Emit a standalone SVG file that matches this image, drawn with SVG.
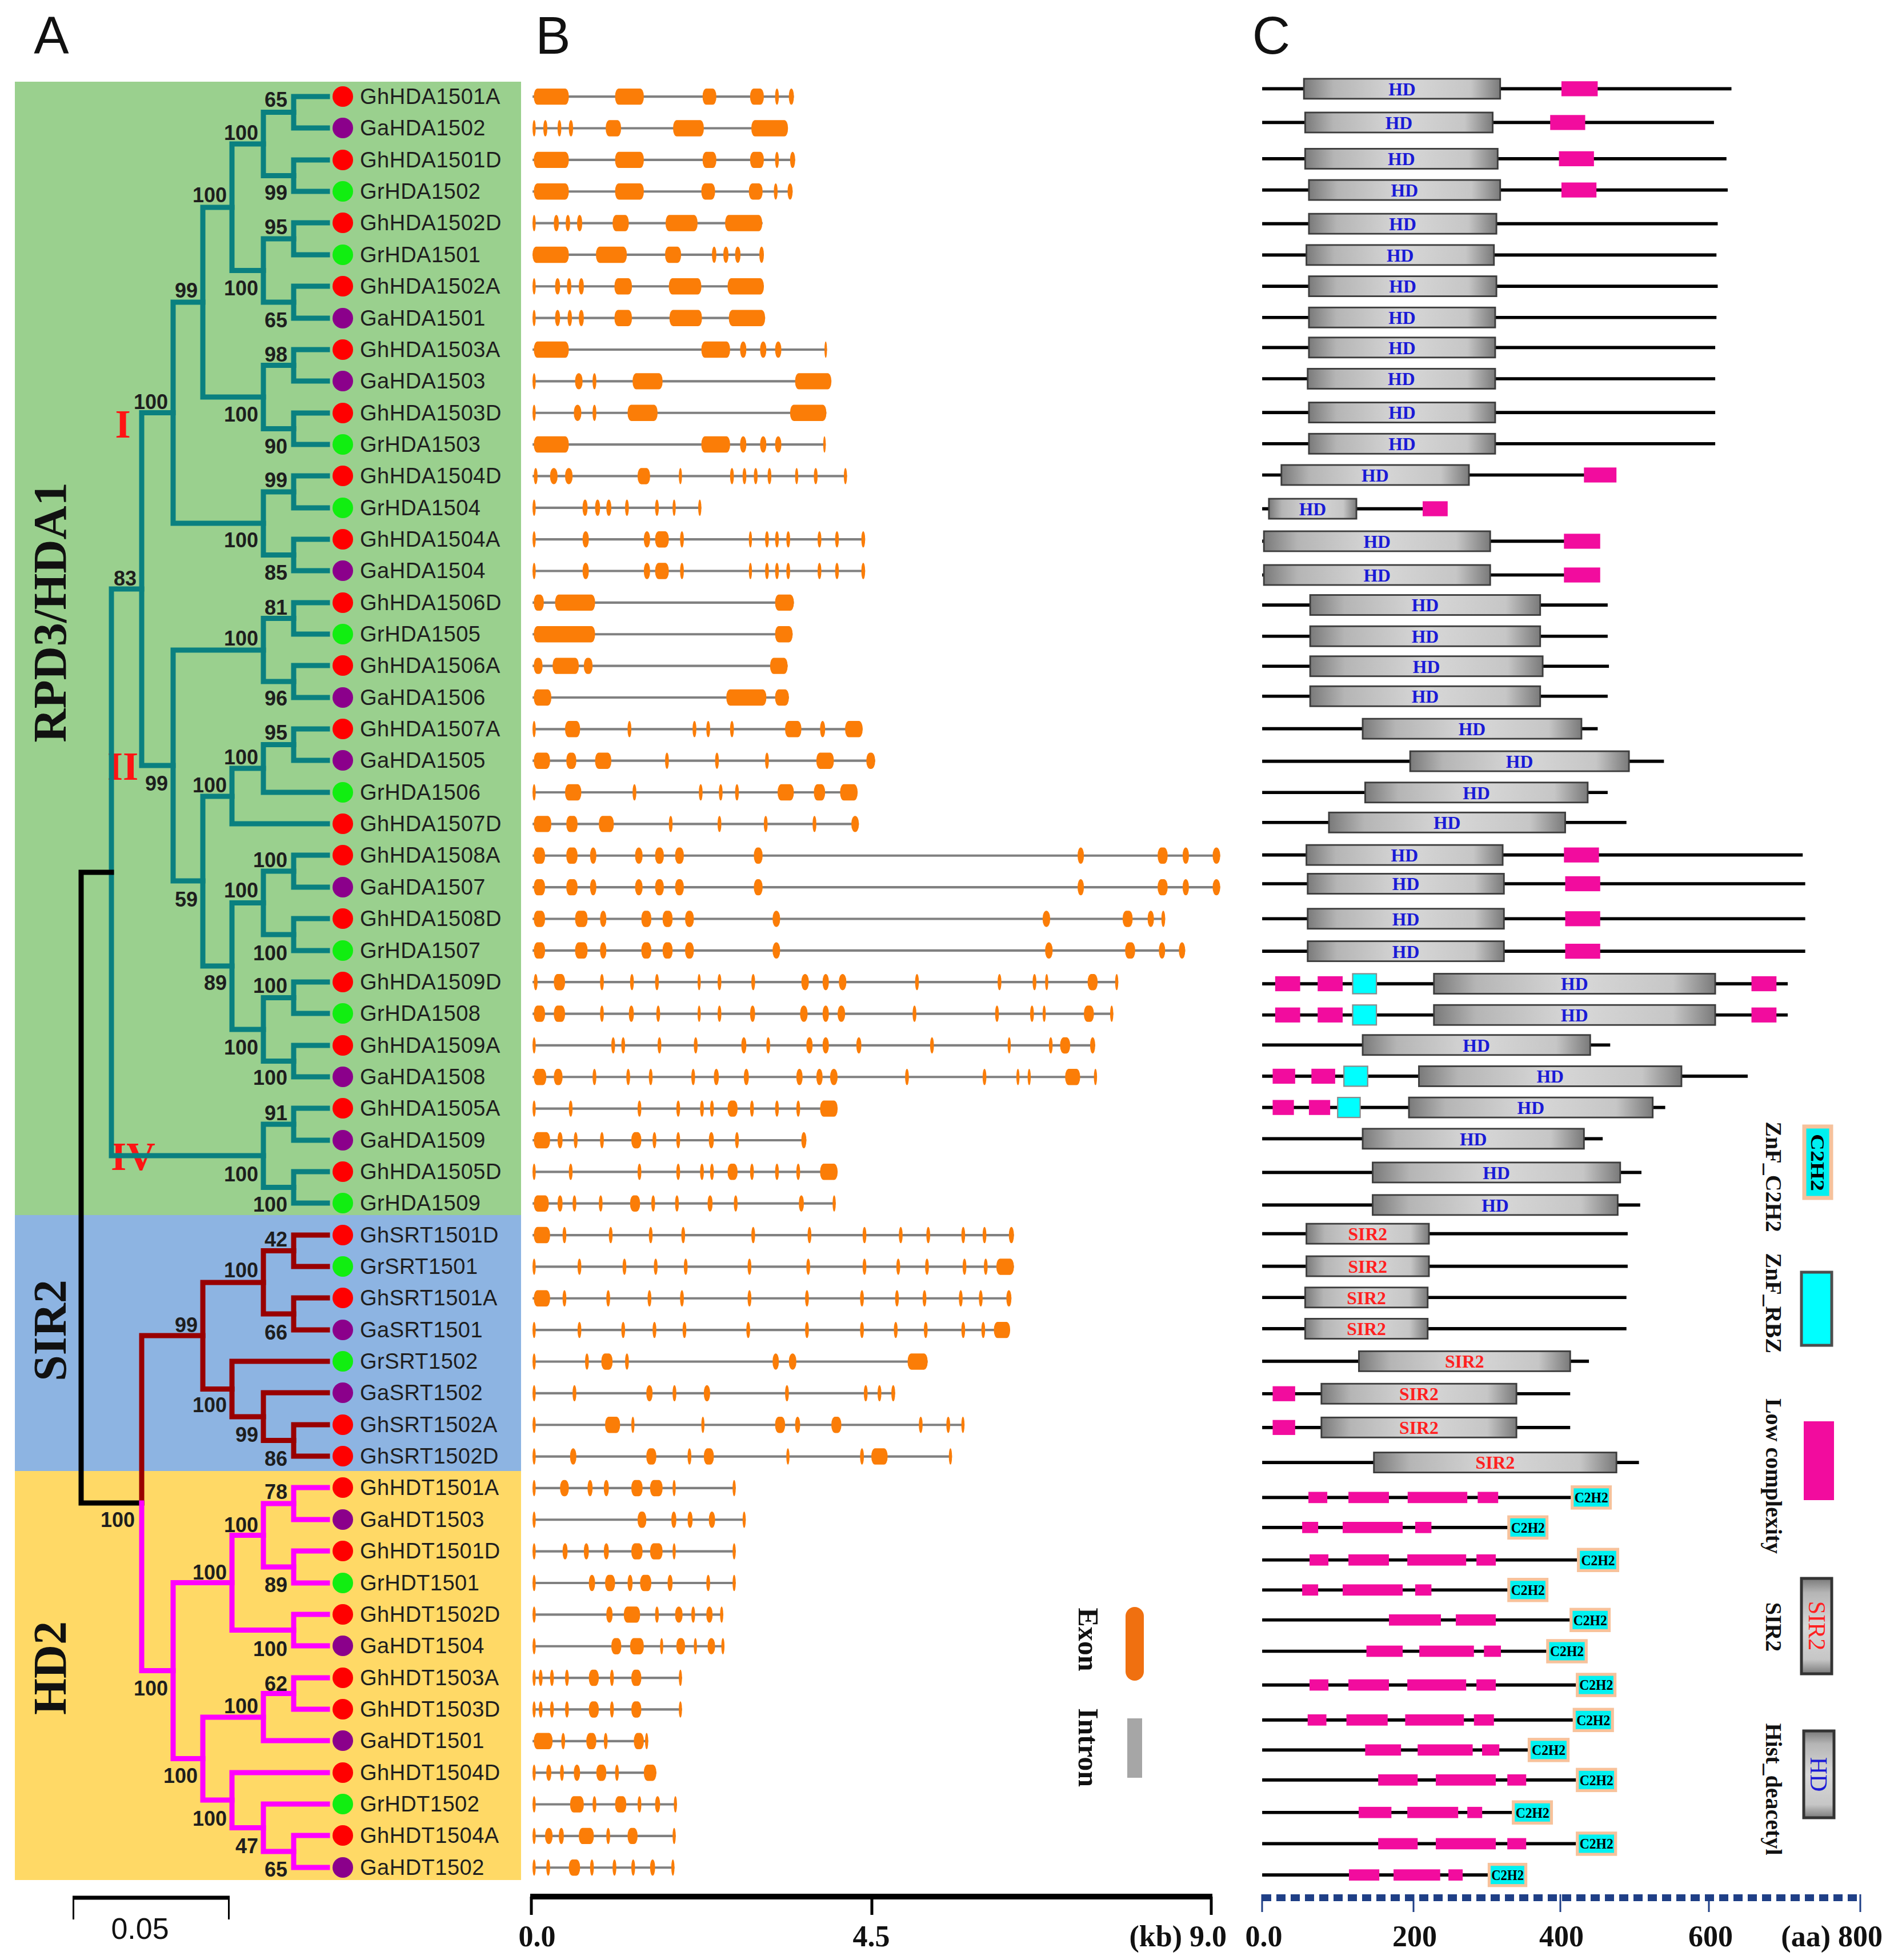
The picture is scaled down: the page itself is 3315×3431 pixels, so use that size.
<svg xmlns="http://www.w3.org/2000/svg" width="3315" height="3431" viewBox="0 0 3315 3431">
<defs>
<linearGradient id="gH" x1="0" y1="0" x2="1" y2="0">
<stop offset="0" stop-color="#7a7a7a"/><stop offset="0.15" stop-color="#b5b5b5"/><stop offset="0.5" stop-color="#d8d8d8"/><stop offset="0.85" stop-color="#c6c6c6"/><stop offset="1" stop-color="#7a7a7a"/>
</linearGradient>
<linearGradient id="gV" x1="0" y1="0" x2="0" y2="1">
<stop offset="0" stop-color="#7a7a7a"/><stop offset="0.15" stop-color="#b5b5b5"/><stop offset="0.5" stop-color="#d8d8d8"/><stop offset="0.85" stop-color="#c6c6c6"/><stop offset="1" stop-color="#7a7a7a"/>
</linearGradient>
</defs>
<style>
.pl{font-family:"Liberation Sans",Arial,sans-serif;font-size:92px;fill:#111;text-anchor:middle}
.lf{font-family:"Liberation Sans",Arial,sans-serif;font-size:38px;fill:#1e1e1e;letter-spacing:0.5px}
.bs{font-family:"Liberation Sans",Arial,sans-serif;font-size:36px;font-weight:bold;fill:#1e1e1e;text-anchor:end}
.cl{font-family:"Liberation Serif","Times New Roman",serif;font-weight:bold;font-size:82px;fill:#111;text-anchor:middle}
.rn{font-family:"Liberation Serif","Times New Roman",serif;font-weight:bold;font-size:70px;fill:#ff1414;text-anchor:middle}
.t{fill:none;stroke-width:9;stroke-linecap:square;stroke-linejoin:miter}
.tl{stroke:#0a8080}.dr{stroke:#990000}.mg{stroke:#ff00ff}.bk{stroke:#000}
.r{fill:#ff0000}.p{fill:#8b008b}.g{fill:#11ee11}
#B path{fill:none;stroke:#808080;stroke-width:1.9}
#B rect{fill:#fb7d07;y:-6.5px;height:13px;rx:3px;ry:6px}
#C .bb{fill:none;stroke:#000;stroke-width:2.6}
#C .hd{fill:url(#gH);stroke:#3c3c3c;stroke-width:1.3;y:-8px;height:16px}
#C .lc{fill:#f20c9e;y:-6px;height:12px}
#C .lc2{fill:#f20c9e;y:-4.5px;height:9px}
#C .rz{fill:#00ffff;stroke:#8a8a8a;stroke-width:1;y:-8px;height:16px}
#C .c2{fill:#00f2f2;stroke:#f7c29b;stroke-width:2.4;y:-8.5px;height:17px}
.ht{font-family:"Liberation Serif","Times New Roman",serif;font-weight:bold;font-size:14.5px;fill:#1a1ad6;text-anchor:middle}
.st{font-family:"Liberation Serif","Times New Roman",serif;font-weight:bold;font-size:14.5px;fill:#ff2020;text-anchor:middle}
.ct{font-family:"Liberation Serif","Times New Roman",serif;font-weight:bold;font-size:11.5px;fill:#000;text-anchor:middle}
.lg{font-family:"Liberation Serif","Times New Roman",serif;font-weight:bold;font-size:40px;fill:#111;text-anchor:middle}
.el{font-family:"Liberation Serif","Times New Roman",serif;font-weight:bold;font-size:50px;fill:#111;text-anchor:middle}
.ax{font-family:"Liberation Serif","Times New Roman",serif;font-weight:bold;font-size:52px;fill:#111;text-anchor:middle}
</style>
<rect width="3315" height="3431" fill="#fff"/>

<g id="panel-letters">
<text class="pl" x="90" y="94">A</text>
<text class="pl" x="968" y="94">B</text>
<text class="pl" x="2225" y="94">C</text>
</g>

<g id="clade-backgrounds">
<rect x="26" y="143" width="886" height="1984" fill="#9ad08e"/>
<rect x="26" y="2127" width="886" height="448" fill="#8db4e2"/>
<rect x="26" y="2575" width="886" height="716" fill="#ffd966"/>
</g>

<g id="clade-labels">
<text class="cl" transform="translate(115,1072) rotate(-90)">RPD3/HDA1</text>
<text class="cl" transform="translate(115,2329) rotate(-90)">SIR2</text>
<text class="cl" transform="translate(115,2920) rotate(-90)">HD2</text>
<text class="rn" x="215" y="766">I</text>
<text class="rn" x="215" y="1365">II</text>
<text class="rn" x="233" y="2048">IV</text>
</g>

<g id="connectors">
<g class="t tl">
<path d="M573,169H514V224H573"/>
<path d="M573,280H514V335H573"/>
<path d="M514,196.5H461V307.5H514"/>
<path d="M573,390H514V446H573"/>
<path d="M573,501H514V557H573"/>
<path d="M514,418H461V529H514"/>
<path d="M461,252H406V473.5H461"/>
<path d="M573,612H514V667H573"/>
<path d="M573,723H514V778H573"/>
<path d="M514,639.5H461V750.5H514"/>
<path d="M406,363H355V695H461"/>
<path d="M573,833H514V889H573"/>
<path d="M573,944H514V999H573"/>
<path d="M514,861H461V971.5H514"/>
<path d="M355,529H303V916H461"/>
<path d="M573,1055H514V1110H573"/>
<path d="M573,1165H514V1221H573"/>
<path d="M514,1082.5H461V1193H514"/>
<path d="M573,1276H514V1331H573"/>
<path d="M514,1303.5H461V1387H573"/>
<path d="M461,1345H406V1442H573"/>
<path d="M573,1497H514V1553H573"/>
<path d="M573,1608H514V1664H573"/>
<path d="M514,1525H461V1636H514"/>
<path d="M573,1719H514V1774H573"/>
<path d="M573,1830H514V1885H573"/>
<path d="M514,1746.5H461V1857.5H514"/>
<path d="M461,1580.5H406V1802H461"/>
<path d="M406,1394H355V1691H406"/>
<path d="M461,1138H303V1542H355"/>
<path d="M303,722.5H248V1340H303"/>
<path d="M573,1940H514V1996H573"/>
<path d="M573,2051H514V2106H573"/>
<path d="M514,1968H461V2078.5H514"/>
<path d="M248,1031H195V2023H461"/>
</g>
<path class="t bk" d="M195,1527H142V2631H248"/>
<g class="t dr">
<path d="M573,2162H514V2217H573"/>
<path d="M573,2272H514V2328H573"/>
<path d="M514,2189.5H461V2300H514"/>
<path d="M573,2494H514V2549H573"/>
<path d="M573,2438H461V2521.5H514"/>
<path d="M573,2383H406V2480H461"/>
<path d="M461,2245H355V2431.5H406"/>
<path d="M355,2338H248V2631"/>
</g>
<g class="t mg">
<path d="M573,2604H514V2660H573"/>
<path d="M573,2715H514V2771H573"/>
<path d="M514,2632H461V2743H514"/>
<path d="M573,2826H514V2881H573"/>
<path d="M461,2687.5H406V2853.5H514"/>
<path d="M573,2937H514V2992H573"/>
<path d="M514,2964.5H461V3047H573"/>
<path d="M573,3213H514V3269H573"/>
<path d="M573,3158H461V3241H514"/>
<path d="M573,3103H406V3199.5H461"/>
<path d="M461,3006H355V3151H406"/>
<path d="M406,2770.5H303V3078.5H355"/>
<path d="M248,2631V2924.5H303"/>
</g>
</g>

<g id="bootstrap">
<text class="bs" x="503" y="187">65</text>
<text class="bs" x="452" y="245">100</text>
<text class="bs" x="503" y="350">99</text>
<text class="bs" x="397" y="354">100</text>
<text class="bs" x="503" y="410">95</text>
<text class="bs" x="452" y="517">100</text>
<text class="bs" x="346" y="521">99</text>
<text class="bs" x="503" y="573">65</text>
<text class="bs" x="503" y="633">98</text>
<text class="bs" x="294" y="716">100</text>
<text class="bs" x="452" y="738">100</text>
<text class="bs" x="503" y="794">90</text>
<text class="bs" x="503" y="853">99</text>
<text class="bs" x="452" y="958">100</text>
<text class="bs" x="503" y="1015">85</text>
<text class="bs" x="239" y="1025">83</text>
<text class="bs" x="503" y="1076">81</text>
<text class="bs" x="452" y="1130">100</text>
<text class="bs" x="503" y="1235">96</text>
<text class="bs" x="503" y="1295">95</text>
<text class="bs" x="452" y="1338">100</text>
<text class="bs" x="294" y="1384">99</text>
<text class="bs" x="397" y="1387">100</text>
<text class="bs" x="503" y="1518">100</text>
<text class="bs" x="452" y="1571">100</text>
<text class="bs" x="346" y="1587">59</text>
<text class="bs" x="503" y="1681">100</text>
<text class="bs" x="397" y="1733">89</text>
<text class="bs" x="503" y="1738">100</text>
<text class="bs" x="452" y="1846">100</text>
<text class="bs" x="503" y="1899">100</text>
<text class="bs" x="503" y="1961">91</text>
<text class="bs" x="452" y="2068">100</text>
<text class="bs" x="503" y="2121">100</text>
<text class="bs" x="503" y="2182">42</text>
<text class="bs" x="452" y="2236">100</text>
<text class="bs" x="346" y="2332">99</text>
<text class="bs" x="503" y="2345">66</text>
<text class="bs" x="397" y="2472">100</text>
<text class="bs" x="452" y="2524">99</text>
<text class="bs" x="503" y="2566">86</text>
<text class="bs" x="236" y="2673">100</text>
<text class="bs" x="503" y="2624">78</text>
<text class="bs" x="452" y="2682">100</text>
<text class="bs" x="397" y="2765">100</text>
<text class="bs" x="503" y="2787">89</text>
<text class="bs" x="503" y="2899">100</text>
<text class="bs" x="503" y="2960">62</text>
<text class="bs" x="294" y="2968">100</text>
<text class="bs" x="452" y="2999">100</text>
<text class="bs" x="346" y="3121">100</text>
<text class="bs" x="397" y="3196">100</text>
<text class="bs" x="452" y="3244">47</text>
<text class="bs" x="503" y="3285">65</text>
</g>

<g id="leaves">
<g id="n-GhHDA1501A"><circle class="r" cx="600" cy="169" r="18"/><text class="lf" x="630" y="182">GhHDA1501A</text></g>
<g id="n-GaHDA1502"><circle class="p" cx="600" cy="224" r="18"/><text class="lf" x="630" y="237">GaHDA1502</text></g>
<g id="n-GhHDA1501D"><circle class="r" cx="600" cy="280" r="18"/><text class="lf" x="630" y="293">GhHDA1501D</text></g>
<g id="n-GrHDA1502"><circle class="g" cx="600" cy="335" r="18"/><text class="lf" x="630" y="348">GrHDA1502</text></g>
<g id="n-GhHDA1502D"><circle class="r" cx="600" cy="390" r="18"/><text class="lf" x="630" y="403">GhHDA1502D</text></g>
<g id="n-GrHDA1501"><circle class="g" cx="600" cy="446" r="18"/><text class="lf" x="630" y="459">GrHDA1501</text></g>
<g id="n-GhHDA1502A"><circle class="r" cx="600" cy="501" r="18"/><text class="lf" x="630" y="514">GhHDA1502A</text></g>
<g id="n-GaHDA1501"><circle class="p" cx="600" cy="557" r="18"/><text class="lf" x="630" y="570">GaHDA1501</text></g>
<g id="n-GhHDA1503A"><circle class="r" cx="600" cy="612" r="18"/><text class="lf" x="630" y="625">GhHDA1503A</text></g>
<g id="n-GaHDA1503"><circle class="p" cx="600" cy="667" r="18"/><text class="lf" x="630" y="680">GaHDA1503</text></g>
<g id="n-GhHDA1503D"><circle class="r" cx="600" cy="723" r="18"/><text class="lf" x="630" y="736">GhHDA1503D</text></g>
<g id="n-GrHDA1503"><circle class="g" cx="600" cy="778" r="18"/><text class="lf" x="630" y="791">GrHDA1503</text></g>
<g id="n-GhHDA1504D"><circle class="r" cx="600" cy="833" r="18"/><text class="lf" x="630" y="846">GhHDA1504D</text></g>
<g id="n-GrHDA1504"><circle class="g" cx="600" cy="889" r="18"/><text class="lf" x="630" y="902">GrHDA1504</text></g>
<g id="n-GhHDA1504A"><circle class="r" cx="600" cy="944" r="18"/><text class="lf" x="630" y="957">GhHDA1504A</text></g>
<g id="n-GaHDA1504"><circle class="p" cx="600" cy="999" r="18"/><text class="lf" x="630" y="1012">GaHDA1504</text></g>
<g id="n-GhHDA1506D"><circle class="r" cx="600" cy="1055" r="18"/><text class="lf" x="630" y="1068">GhHDA1506D</text></g>
<g id="n-GrHDA1505"><circle class="g" cx="600" cy="1110" r="18"/><text class="lf" x="630" y="1123">GrHDA1505</text></g>
<g id="n-GhHDA1506A"><circle class="r" cx="600" cy="1165" r="18"/><text class="lf" x="630" y="1178">GhHDA1506A</text></g>
<g id="n-GaHDA1506"><circle class="p" cx="600" cy="1221" r="18"/><text class="lf" x="630" y="1234">GaHDA1506</text></g>
<g id="n-GhHDA1507A"><circle class="r" cx="600" cy="1276" r="18"/><text class="lf" x="630" y="1289">GhHDA1507A</text></g>
<g id="n-GaHDA1505"><circle class="p" cx="600" cy="1331" r="18"/><text class="lf" x="630" y="1344">GaHDA1505</text></g>
<g id="n-GrHDA1506"><circle class="g" cx="600" cy="1387" r="18"/><text class="lf" x="630" y="1400">GrHDA1506</text></g>
<g id="n-GhHDA1507D"><circle class="r" cx="600" cy="1442" r="18"/><text class="lf" x="630" y="1455">GhHDA1507D</text></g>
<g id="n-GhHDA1508A"><circle class="r" cx="600" cy="1497" r="18"/><text class="lf" x="630" y="1510">GhHDA1508A</text></g>
<g id="n-GaHDA1507"><circle class="p" cx="600" cy="1553" r="18"/><text class="lf" x="630" y="1566">GaHDA1507</text></g>
<g id="n-GhHDA1508D"><circle class="r" cx="600" cy="1608" r="18"/><text class="lf" x="630" y="1621">GhHDA1508D</text></g>
<g id="n-GrHDA1507"><circle class="g" cx="600" cy="1664" r="18"/><text class="lf" x="630" y="1677">GrHDA1507</text></g>
<g id="n-GhHDA1509D"><circle class="r" cx="600" cy="1719" r="18"/><text class="lf" x="630" y="1732">GhHDA1509D</text></g>
<g id="n-GrHDA1508"><circle class="g" cx="600" cy="1774" r="18"/><text class="lf" x="630" y="1787">GrHDA1508</text></g>
<g id="n-GhHDA1509A"><circle class="r" cx="600" cy="1830" r="18"/><text class="lf" x="630" y="1843">GhHDA1509A</text></g>
<g id="n-GaHDA1508"><circle class="p" cx="600" cy="1885" r="18"/><text class="lf" x="630" y="1898">GaHDA1508</text></g>
<g id="n-GhHDA1505A"><circle class="r" cx="600" cy="1940" r="18"/><text class="lf" x="630" y="1953">GhHDA1505A</text></g>
<g id="n-GaHDA1509"><circle class="p" cx="600" cy="1996" r="18"/><text class="lf" x="630" y="2009">GaHDA1509</text></g>
<g id="n-GhHDA1505D"><circle class="r" cx="600" cy="2051" r="18"/><text class="lf" x="630" y="2064">GhHDA1505D</text></g>
<g id="n-GrHDA1509"><circle class="g" cx="600" cy="2106" r="18"/><text class="lf" x="630" y="2119">GrHDA1509</text></g>
<g id="n-GhSRT1501D"><circle class="r" cx="600" cy="2162" r="18"/><text class="lf" x="630" y="2175">GhSRT1501D</text></g>
<g id="n-GrSRT1501"><circle class="g" cx="600" cy="2217" r="18"/><text class="lf" x="630" y="2230">GrSRT1501</text></g>
<g id="n-GhSRT1501A"><circle class="r" cx="600" cy="2272" r="18"/><text class="lf" x="630" y="2285">GhSRT1501A</text></g>
<g id="n-GaSRT1501"><circle class="p" cx="600" cy="2328" r="18"/><text class="lf" x="630" y="2341">GaSRT1501</text></g>
<g id="n-GrSRT1502"><circle class="g" cx="600" cy="2383" r="18"/><text class="lf" x="630" y="2396">GrSRT1502</text></g>
<g id="n-GaSRT1502"><circle class="p" cx="600" cy="2438" r="18"/><text class="lf" x="630" y="2451">GaSRT1502</text></g>
<g id="n-GhSRT1502A"><circle class="r" cx="600" cy="2494" r="18"/><text class="lf" x="630" y="2507">GhSRT1502A</text></g>
<g id="n-GhSRT1502D"><circle class="r" cx="600" cy="2549" r="18"/><text class="lf" x="630" y="2562">GhSRT1502D</text></g>
<g id="n-GhHDT1501A"><circle class="r" cx="600" cy="2604" r="18"/><text class="lf" x="630" y="2617">GhHDT1501A</text></g>
<g id="n-GaHDT1503"><circle class="p" cx="600" cy="2660" r="18"/><text class="lf" x="630" y="2673">GaHDT1503</text></g>
<g id="n-GhHDT1501D"><circle class="r" cx="600" cy="2715" r="18"/><text class="lf" x="630" y="2728">GhHDT1501D</text></g>
<g id="n-GrHDT1501"><circle class="g" cx="600" cy="2771" r="18"/><text class="lf" x="630" y="2784">GrHDT1501</text></g>
<g id="n-GhHDT1502D"><circle class="r" cx="600" cy="2826" r="18"/><text class="lf" x="630" y="2839">GhHDT1502D</text></g>
<g id="n-GaHDT1504"><circle class="p" cx="600" cy="2881" r="18"/><text class="lf" x="630" y="2894">GaHDT1504</text></g>
<g id="n-GhHDT1503A"><circle class="r" cx="600" cy="2937" r="18"/><text class="lf" x="630" y="2950">GhHDT1503A</text></g>
<g id="n-GhHDT1503D"><circle class="r" cx="600" cy="2992" r="18"/><text class="lf" x="630" y="3005">GhHDT1503D</text></g>
<g id="n-GaHDT1501"><circle class="p" cx="600" cy="3047" r="18"/><text class="lf" x="630" y="3060">GaHDT1501</text></g>
<g id="n-GhHDT1504D"><circle class="r" cx="600" cy="3103" r="18"/><text class="lf" x="630" y="3116">GhHDT1504D</text></g>
<g id="n-GrHDT1502"><circle class="g" cx="600" cy="3158" r="18"/><text class="lf" x="630" y="3171">GrHDT1502</text></g>
<g id="n-GhHDT1504A"><circle class="r" cx="600" cy="3213" r="18"/><text class="lf" x="630" y="3226">GhHDT1504A</text></g>
<g id="n-GaHDT1502"><circle class="p" cx="600" cy="3269" r="18"/><text class="lf" x="630" y="3282">GaHDT1502</text></g>
</g>

<g id="B" transform="scale(2.1881)">
<g transform="translate(0,77.3)"><path d="M426 0H635"/><rect x="427" width="28"/><rect x="492" width="23"/><rect x="562" width="11"/><rect x="600" width="11"/><rect x="620" width="3"/><rect x="631" width="4"/></g>
<g transform="translate(0,102.6)"><path d="M426 0H630"/><rect x="426" width="2.5"/><rect x="434.6" width="3.2"/><rect x="446" width="3"/><rect x="455" width="3.4"/><rect x="484.5" width="12.3"/><rect x="538.4" width="24.6"/><rect x="601" width="29.3"/></g>
<g transform="translate(0,127.9)"><path d="M426 0H636"/><rect x="427" width="28"/><rect x="492" width="23"/><rect x="562" width="11"/><rect x="600" width="11"/><rect x="620" width="3"/><rect x="632" width="4"/></g>
<g transform="translate(0,153.2)"><path d="M426 0H634"/><rect x="427" width="28"/><rect x="492" width="23"/><rect x="561" width="11"/><rect x="599" width="11"/><rect x="619" width="3"/><rect x="630" width="4"/></g>
<g transform="translate(0,178.5)"><path d="M426 0H610"/><rect x="426" width="2.5"/><rect x="443" width="4"/><rect x="452.5" width="3.5"/><rect x="461.6" width="4.1"/><rect x="490" width="13"/><rect x="532.4" width="25.6"/><rect x="580" width="29.7"/></g>
<g transform="translate(0,203.8)"><path d="M426 0H611"/><rect x="426" width="29"/><rect x="476.7" width="24.7"/><rect x="532" width="12.8"/><rect x="569.5" width="3.5"/><rect x="578.6" width="4.1"/><rect x="588" width="4.3"/><rect x="607.4" width="3.6"/></g>
<g transform="translate(0,229.1)"><path d="M426 0H611"/><rect x="426" width="2.5"/><rect x="444" width="4"/><rect x="453.5" width="3.5"/><rect x="463" width="4"/><rect x="491.5" width="14"/><rect x="535" width="26"/><rect x="582" width="29"/></g>
<g transform="translate(0,254.4)"><path d="M426 0H612"/><rect x="426" width="2.5"/><rect x="444" width="4"/><rect x="454" width="3.5"/><rect x="463" width="4"/><rect x="491.5" width="14"/><rect x="535.5" width="26"/><rect x="583" width="29"/></g>
<g transform="translate(0,279.7)"><path d="M426 0H661.5"/><rect x="427" width="28"/><rect x="561" width="23"/><rect x="592" width="5"/><rect x="608" width="5"/><rect x="620" width="5"/><rect x="659.5" width="2"/></g>
<g transform="translate(0,305)"><path d="M426 0H665"/><rect x="426" width="2.5"/><rect x="460" width="6"/><rect x="474" width="3"/><rect x="506" width="24"/><rect x="636" width="29"/></g>
<g transform="translate(0,330.3)"><path d="M426 0H661"/><rect x="426" width="2.5"/><rect x="459" width="6"/><rect x="474" width="3"/><rect x="502" width="24"/><rect x="632" width="29"/></g>
<g transform="translate(0,355.6)"><path d="M426 0H660.5"/><rect x="427" width="28"/><rect x="561" width="23"/><rect x="592" width="5"/><rect x="608" width="5"/><rect x="620" width="5"/><rect x="658.5" width="2"/></g>
<g transform="translate(0,380.9)"><path d="M426 0H677.5"/><rect x="427" width="3"/><rect x="440" width="6"/><rect x="452" width="6"/><rect x="510" width="10"/><rect x="543" width="2.5"/><rect x="584" width="3"/><rect x="594" width="3"/><rect x="603" width="3"/><rect x="614" width="3"/><rect x="636" width="2.5"/><rect x="651" width="3"/><rect x="675" width="2.5"/></g>
<g transform="translate(0,406.2)"><path d="M426 0H561"/><rect x="426" width="2.5"/><rect x="466" width="4"/><rect x="476" width="4"/><rect x="485" width="4"/><rect x="500" width="3"/><rect x="524" width="3"/><rect x="538" width="2.5"/><rect x="558.5" width="2.5"/></g>
<g transform="translate(0,431.5)"><path d="M426 0H692"/><rect x="426" width="2.5"/><rect x="466" width="5"/><rect x="515" width="5"/><rect x="524" width="11"/><rect x="544" width="3"/><rect x="599" width="2.5"/><rect x="612" width="3"/><rect x="620" width="3"/><rect x="629" width="3"/><rect x="654" width="3"/><rect x="668" width="3"/><rect x="689" width="3"/></g>
<g transform="translate(0,456.8)"><path d="M426 0H692"/><rect x="426" width="2.5"/><rect x="466" width="5"/><rect x="515" width="5"/><rect x="524" width="11"/><rect x="544" width="3"/><rect x="599" width="2.5"/><rect x="612" width="3"/><rect x="620" width="3"/><rect x="629" width="3"/><rect x="654" width="3"/><rect x="668" width="3"/><rect x="689" width="3"/></g>
<g transform="translate(0,482.1)"><path d="M426 0H635"/><rect x="427" width="8"/><rect x="444" width="32"/><rect x="620" width="15"/></g>
<g transform="translate(0,507.4)"><path d="M426 0H634"/><rect x="427" width="49"/><rect x="620" width="14"/></g>
<g transform="translate(0,532.7)"><path d="M426 0H630"/><rect x="427" width="7"/><rect x="442" width="21"/><rect x="467" width="7"/><rect x="616" width="14"/></g>
<g transform="translate(0,558)"><path d="M426 0H631"/><rect x="427" width="14"/><rect x="581" width="32"/><rect x="620" width="11"/></g>
<g transform="translate(0,583.3)"><path d="M426 0H690"/><rect x="426" width="2.5"/><rect x="452" width="12"/><rect x="502" width="3"/><rect x="554" width="3"/><rect x="565" width="3"/><rect x="584" width="3"/><rect x="628" width="13"/><rect x="656" width="4"/><rect x="676" width="14"/></g>
<g transform="translate(0,608.6)"><path d="M426 0H700"/><rect x="427" width="13"/><rect x="453" width="8"/><rect x="476" width="13"/><rect x="532" width="3"/><rect x="572" width="3"/><rect x="612" width="3"/><rect x="653" width="14"/><rect x="693" width="7"/></g>
<g transform="translate(0,633.9)"><path d="M426 0H686"/><rect x="426" width="2.5"/><rect x="452" width="13"/><rect x="506" width="3"/><rect x="559" width="3"/><rect x="575" width="3"/><rect x="588" width="3"/><rect x="622" width="13"/><rect x="651" width="9"/><rect x="672" width="14"/></g>
<g transform="translate(0,659.2)"><path d="M426 0H687"/><rect x="427" width="14"/><rect x="453" width="9"/><rect x="479" width="12"/><rect x="535" width="3"/><rect x="574" width="3"/><rect x="611" width="3"/><rect x="650" width="3"/><rect x="681" width="6"/></g>
<g transform="translate(0,684.5)"><path d="M426 0H976"/><rect x="427" width="9"/><rect x="453" width="9"/><rect x="472" width="5"/><rect x="508" width="6"/><rect x="524" width="7"/><rect x="540" width="7"/><rect x="603" width="7"/><rect x="862" width="5"/><rect x="926" width="8"/><rect x="946" width="5"/><rect x="970" width="6"/></g>
<g transform="translate(0,709.8)"><path d="M426 0H976"/><rect x="427" width="9"/><rect x="453" width="9"/><rect x="472" width="5"/><rect x="508" width="6"/><rect x="524" width="7"/><rect x="540" width="7"/><rect x="603" width="7"/><rect x="862" width="5"/><rect x="926" width="8"/><rect x="946" width="5"/><rect x="970" width="6"/></g>
<g transform="translate(0,735.1)"><path d="M426 0H932"/><rect x="427" width="9"/><rect x="460" width="10"/><rect x="480" width="5"/><rect x="513" width="8"/><rect x="530" width="8"/><rect x="548" width="7"/><rect x="618" width="6"/><rect x="834" width="6"/><rect x="898" width="8"/><rect x="918" width="5"/><rect x="929" width="3"/></g>
<g transform="translate(0,760.4)"><path d="M426 0H948"/><rect x="427" width="9"/><rect x="460" width="10"/><rect x="480" width="5"/><rect x="513" width="8"/><rect x="530" width="8"/><rect x="548" width="7"/><rect x="618" width="6"/><rect x="836" width="6"/><rect x="900" width="8"/><rect x="927" width="5"/><rect x="943" width="5"/></g>
<g transform="translate(0,785.7)"><path d="M426 0H894.5"/><rect x="427" width="3"/><rect x="443" width="9"/><rect x="480" width="3"/><rect x="504" width="3"/><rect x="524" width="3"/><rect x="558" width="2.5"/><rect x="574" width="3"/><rect x="601" width="3"/><rect x="641" width="6"/><rect x="658" width="5"/><rect x="671" width="6"/><rect x="732" width="3"/><rect x="798" width="3"/><rect x="826" width="3"/><rect x="836" width="2.5"/><rect x="870" width="8"/><rect x="892" width="2.5"/></g>
<g transform="translate(0,811)"><path d="M426 0H890.5"/><rect x="427" width="9"/><rect x="443" width="9"/><rect x="480" width="3"/><rect x="503" width="4"/><rect x="525" width="3"/><rect x="558" width="2.5"/><rect x="574" width="3"/><rect x="600" width="4"/><rect x="640" width="6"/><rect x="658" width="5"/><rect x="670" width="6"/><rect x="730" width="3"/><rect x="796" width="3"/><rect x="824" width="3"/><rect x="834" width="2.5"/><rect x="867" width="8"/><rect x="888" width="2.5"/></g>
<g transform="translate(0,836.3)"><path d="M426 0H876"/><rect x="426" width="2.5"/><rect x="489" width="3"/><rect x="497" width="3"/><rect x="526" width="3"/><rect x="555" width="3"/><rect x="593" width="4"/><rect x="613" width="3"/><rect x="645" width="5"/><rect x="658" width="5"/><rect x="685" width="4"/><rect x="744" width="3"/><rect x="806" width="2.5"/><rect x="839" width="3"/><rect x="848" width="8"/><rect x="872" width="4"/></g>
<g transform="translate(0,861.6)"><path d="M426 0H877.5"/><rect x="427" width="10"/><rect x="443" width="7"/><rect x="474" width="3"/><rect x="501" width="3"/><rect x="519" width="3"/><rect x="553" width="3"/><rect x="571" width="4"/><rect x="595" width="4"/><rect x="637" width="5"/><rect x="653" width="5"/><rect x="664" width="6"/><rect x="724" width="3"/><rect x="786" width="3"/><rect x="813" width="2.5"/><rect x="822" width="2.5"/><rect x="852" width="12"/><rect x="875" width="2.5"/></g>
<g transform="translate(0,886.9)"><path d="M426 0H670"/><rect x="426" width="2.5"/><rect x="455" width="3"/><rect x="510" width="3"/><rect x="541" width="3"/><rect x="560" width="3"/><rect x="568" width="3"/><rect x="582" width="8"/><rect x="600" width="3"/><rect x="620" width="3"/><rect x="637" width="3"/><rect x="656" width="14"/></g>
<g transform="translate(0,912.2)"><path d="M426 0H645"/><rect x="427" width="13"/><rect x="446" width="4"/><rect x="459" width="3"/><rect x="480" width="3"/><rect x="505" width="8"/><rect x="522" width="3"/><rect x="541" width="3"/><rect x="567" width="4"/><rect x="588" width="3"/><rect x="641" width="4"/></g>
<g transform="translate(0,937.5)"><path d="M426 0H670"/><rect x="426" width="2.5"/><rect x="455" width="3"/><rect x="510" width="3"/><rect x="541" width="3"/><rect x="560" width="3"/><rect x="568" width="3"/><rect x="582" width="8"/><rect x="600" width="3"/><rect x="620" width="3"/><rect x="637" width="3"/><rect x="656" width="14"/></g>
<g transform="translate(0,962.8)"><path d="M426 0H668.5"/><rect x="427" width="12"/><rect x="446" width="4"/><rect x="458" width="3"/><rect x="479" width="3"/><rect x="504" width="8"/><rect x="521" width="3"/><rect x="540" width="3"/><rect x="566" width="4"/><rect x="587" width="3"/><rect x="639" width="4"/><rect x="666" width="2.5"/></g>
<g transform="translate(0,988.1)"><path d="M426 0H811"/><rect x="427" width="13"/><rect x="450" width="3"/><rect x="487" width="3"/><rect x="519" width="3"/><rect x="545" width="3"/><rect x="601" width="3"/><rect x="646" width="3"/><rect x="690" width="3"/><rect x="719" width="3"/><rect x="741" width="3"/><rect x="769" width="3"/><rect x="786" width="3"/><rect x="807" width="4"/></g>
<g transform="translate(0,1013.4)"><path d="M426 0H811"/><rect x="426" width="2.5"/><rect x="462" width="3"/><rect x="498" width="3"/><rect x="523" width="3"/><rect x="547" width="3"/><rect x="598" width="3"/><rect x="645" width="3"/><rect x="690" width="3"/><rect x="717" width="3"/><rect x="740" width="3"/><rect x="770" width="3"/><rect x="787" width="3"/><rect x="797" width="14"/></g>
<g transform="translate(0,1038.7)"><path d="M426 0H809"/><rect x="427" width="13"/><rect x="450" width="3"/><rect x="485" width="3"/><rect x="518" width="3"/><rect x="544" width="3"/><rect x="598" width="3"/><rect x="644" width="3"/><rect x="688" width="3"/><rect x="716" width="3"/><rect x="738" width="3"/><rect x="767" width="3"/><rect x="783" width="3"/><rect x="805" width="4"/></g>
<g transform="translate(0,1064)"><path d="M426 0H808"/><rect x="426" width="2.5"/><rect x="462" width="3"/><rect x="497" width="3"/><rect x="522" width="3"/><rect x="546" width="3"/><rect x="597" width="3"/><rect x="644" width="3"/><rect x="688" width="3"/><rect x="715" width="3"/><rect x="739" width="3"/><rect x="769" width="3"/><rect x="785" width="3"/><rect x="795" width="13"/></g>
<g transform="translate(0,1089.3)"><path d="M426 0H742"/><rect x="426" width="2.5"/><rect x="468" width="3"/><rect x="481" width="9"/><rect x="500" width="3"/><rect x="618" width="5"/><rect x="631" width="6"/><rect x="726" width="16"/></g>
<g transform="translate(0,1114.6)"><path d="M426 0H716"/><rect x="426" width="2.5"/><rect x="458" width="3"/><rect x="517" width="5"/><rect x="538" width="3"/><rect x="563" width="5"/><rect x="628" width="3"/><rect x="691" width="3"/><rect x="702" width="3"/><rect x="713" width="3"/></g>
<g transform="translate(0,1139.9)"><path d="M426 0H771.5"/><rect x="426" width="2.5"/><rect x="484" width="12"/><rect x="505" width="2.5"/><rect x="561" width="2.5"/><rect x="620" width="8"/><rect x="636" width="4"/><rect x="665" width="8"/><rect x="735" width="3"/><rect x="757" width="3"/><rect x="769" width="2.5"/></g>
<g transform="translate(0,1165.2)"><path d="M426 0H761.5"/><rect x="426" width="2.5"/><rect x="456" width="5"/><rect x="517" width="8"/><rect x="550" width="3"/><rect x="563" width="8"/><rect x="629" width="2.5"/><rect x="688" width="3"/><rect x="697" width="13"/><rect x="759" width="2.5"/></g>
<g transform="translate(0,1190.5)"><path d="M426 0H588.5"/><rect x="426" width="2.5"/><rect x="448" width="7"/><rect x="470" width="4"/><rect x="483" width="4"/><rect x="505" width="9"/><rect x="520" width="10"/><rect x="538" width="2.5"/><rect x="586" width="2.5"/></g>
<g transform="translate(0,1215.8)"><path d="M426 0H596.5"/><rect x="426" width="2.5"/><rect x="510" width="7"/><rect x="537" width="4"/><rect x="550" width="4"/><rect x="567" width="5"/><rect x="594" width="2.5"/></g>
<g transform="translate(0,1241.1)"><path d="M426 0H588.5"/><rect x="426" width="2.5"/><rect x="450" width="4"/><rect x="467" width="4"/><rect x="483" width="4"/><rect x="505" width="9"/><rect x="520" width="10"/><rect x="538" width="2.5"/><rect x="586" width="2.5"/></g>
<g transform="translate(0,1266.4)"><path d="M426 0H588.5"/><rect x="426" width="2.5"/><rect x="471" width="5"/><rect x="484" width="8"/><rect x="502" width="4"/><rect x="512" width="9"/><rect x="534" width="4"/><rect x="565" width="3"/><rect x="586" width="2.5"/></g>
<g transform="translate(0,1291.7)"><path d="M426 0H578.5"/><rect x="426" width="2.5"/><rect x="485" width="5"/><rect x="499" width="13"/><rect x="524" width="3"/><rect x="540" width="6"/><rect x="553" width="3"/><rect x="565" width="5"/><rect x="576" width="2.5"/></g>
<g transform="translate(0,1317)"><path d="M426 0H579.5"/><rect x="426" width="2.5"/><rect x="489" width="8"/><rect x="504" width="11"/><rect x="528" width="2.5"/><rect x="541" width="7"/><rect x="555" width="2.5"/><rect x="566" width="6"/><rect x="577" width="2.5"/></g>
<g transform="translate(0,1342.3)"><path d="M426 0H545.5"/><rect x="426" width="2.5"/><rect x="431" width="3"/><rect x="440" width="3"/><rect x="452" width="3"/><rect x="471" width="8"/><rect x="488" width="3"/><rect x="505" width="8"/><rect x="543" width="2.5"/></g>
<g transform="translate(0,1367.6)"><path d="M426 0H545.5"/><rect x="426" width="2.5"/><rect x="431" width="3"/><rect x="440" width="3"/><rect x="452" width="3"/><rect x="471" width="8"/><rect x="488" width="3"/><rect x="505" width="8"/><rect x="543" width="2.5"/></g>
<g transform="translate(0,1392.9)"><path d="M426 0H518.5"/><rect x="427" width="15"/><rect x="449" width="3"/><rect x="469" width="8"/><rect x="483" width="3"/><rect x="507" width="8"/><rect x="516" width="2.5"/></g>
<g transform="translate(0,1418.2)"><path d="M426 0H525"/><rect x="426" width="2.5"/><rect x="437" width="4"/><rect x="448" width="3"/><rect x="459" width="5"/><rect x="477" width="8"/><rect x="492" width="3"/><rect x="515" width="10"/></g>
<g transform="translate(0,1443.5)"><path d="M426 0H541.5"/><rect x="426" width="2.5"/><rect x="456" width="11"/><rect x="474" width="3"/><rect x="492" width="9"/><rect x="510" width="3"/><rect x="524" width="4"/><rect x="539" width="2.5"/></g>
<g transform="translate(0,1468.8)"><path d="M426 0H540.5"/><rect x="426" width="2.5"/><rect x="436" width="6"/><rect x="447" width="4"/><rect x="463" width="12"/><rect x="485" width="3"/><rect x="502" width="8"/><rect x="538" width="2.5"/></g>
<g transform="translate(0,1494.1)"><path d="M426 0H539.5"/><rect x="426" width="2.5"/><rect x="437" width="3"/><rect x="455" width="9"/><rect x="472" width="3"/><rect x="490" width="3"/><rect x="505" width="3"/><rect x="520" width="4"/><rect x="537" width="2.5"/></g>
</g>

<g id="B-legend">
<text class="el" transform="translate(1888,2870) rotate(90)">Exon</text>
<rect x="1970" y="2813" width="32" height="129" rx="16" fill="#f07010"/>
<text class="el" transform="translate(1888,3059) rotate(90)">Intron</text>
<rect x="1973" y="3008" width="26" height="104" fill="#a6a6a6"/>
</g>

<g id="C" transform="scale(2.1881)">
<g transform="translate(0,71)"><path class="bb" d="M1009.6 0H1385"/><rect class="hd" x="1043" width="157"/><text class="ht" x="1121.5" y="5.2">HD</text><rect class="lc" x="1249" width="29"/></g>
<g transform="translate(0,98)"><path class="bb" d="M1009.6 0H1371"/><rect class="hd" x="1044" width="150"/><text class="ht" x="1119" y="5.2">HD</text><rect class="lc" x="1240" width="28"/></g>
<g transform="translate(0,127)"><path class="bb" d="M1009.6 0H1381"/><rect class="hd" x="1044" width="154"/><text class="ht" x="1121" y="5.2">HD</text><rect class="lc" x="1247" width="28"/></g>
<g transform="translate(0,152)"><path class="bb" d="M1009.6 0H1382"/><rect class="hd" x="1047" width="153"/><text class="ht" x="1123.5" y="5.2">HD</text><rect class="lc" x="1249" width="28"/></g>
<g transform="translate(0,179)"><path class="bb" d="M1009.6 0H1374"/><rect class="hd" x="1047" width="150"/><text class="ht" x="1122" y="5.2">HD</text></g>
<g transform="translate(0,204)"><path class="bb" d="M1009.6 0H1373"/><rect class="hd" x="1045" width="150"/><text class="ht" x="1120" y="5.2">HD</text></g>
<g transform="translate(0,229)"><path class="bb" d="M1009.6 0H1374"/><rect class="hd" x="1047" width="150"/><text class="ht" x="1122" y="5.2">HD</text></g>
<g transform="translate(0,254)"><path class="bb" d="M1009.6 0H1373"/><rect class="hd" x="1047" width="149"/><text class="ht" x="1121.5" y="5.2">HD</text></g>
<g transform="translate(0,278)"><path class="bb" d="M1009.6 0H1372"/><rect class="hd" x="1047" width="149"/><text class="ht" x="1121.5" y="5.2">HD</text></g>
<g transform="translate(0,303)"><path class="bb" d="M1009.6 0H1372"/><rect class="hd" x="1046" width="150"/><text class="ht" x="1121" y="5.2">HD</text></g>
<g transform="translate(0,330)"><path class="bb" d="M1009.6 0H1372"/><rect class="hd" x="1047" width="149"/><text class="ht" x="1121.5" y="5.2">HD</text></g>
<g transform="translate(0,355)"><path class="bb" d="M1009.6 0H1372"/><rect class="hd" x="1047" width="149"/><text class="ht" x="1121.5" y="5.2">HD</text></g>
<g transform="translate(0,380)"><path class="bb" d="M1009.6 0H1290"/><rect class="hd" x="1025" width="150"/><text class="ht" x="1100" y="5.2">HD</text><rect class="lc" x="1267" width="26"/></g>
<g transform="translate(0,407)"><path class="bb" d="M1009.6 0H1150"/><rect class="hd" x="1015" width="70"/><text class="ht" x="1050" y="5.2">HD</text><rect class="lc" x="1138" width="20"/></g>
<g transform="translate(0,433)"><path class="bb" d="M1009.6 0H1270"/><rect class="hd" x="1011" width="181"/><text class="ht" x="1101.5" y="5.2">HD</text><rect class="lc" x="1251" width="29"/></g>
<g transform="translate(0,460)"><path class="bb" d="M1009.6 0H1270"/><rect class="hd" x="1011" width="181"/><text class="ht" x="1101.5" y="5.2">HD</text><rect class="lc" x="1251" width="29"/></g>
<g transform="translate(0,484)"><path class="bb" d="M1009.6 0H1286"/><rect class="hd" x="1048" width="184"/><text class="ht" x="1140" y="5.2">HD</text></g>
<g transform="translate(0,509)"><path class="bb" d="M1009.6 0H1286"/><rect class="hd" x="1048" width="184"/><text class="ht" x="1140" y="5.2">HD</text></g>
<g transform="translate(0,533)"><path class="bb" d="M1009.6 0H1287"/><rect class="hd" x="1048" width="186"/><text class="ht" x="1141" y="5.2">HD</text></g>
<g transform="translate(0,557)"><path class="bb" d="M1009.6 0H1286"/><rect class="hd" x="1048" width="184"/><text class="ht" x="1140" y="5.2">HD</text></g>
<g transform="translate(0,583)"><path class="bb" d="M1009.6 0H1278"/><rect class="hd" x="1090" width="175"/><text class="ht" x="1177.5" y="5.2">HD</text></g>
<g transform="translate(0,609)"><path class="bb" d="M1009.6 0H1331"/><rect class="hd" x="1128" width="175"/><text class="ht" x="1215.5" y="5.2">HD</text></g>
<g transform="translate(0,634)"><path class="bb" d="M1009.6 0H1286"/><rect class="hd" x="1092" width="178"/><text class="ht" x="1181" y="5.2">HD</text></g>
<g transform="translate(0,658)"><path class="bb" d="M1009.6 0H1301"/><rect class="hd" x="1063" width="189"/><text class="ht" x="1157.5" y="5.2">HD</text></g>
<g transform="translate(0,684)"><path class="bb" d="M1009.6 0H1442"/><rect class="hd" x="1045" width="157"/><text class="ht" x="1123.5" y="5.2">HD</text><rect class="lc" x="1251" width="28"/></g>
<g transform="translate(0,707)"><path class="bb" d="M1009.6 0H1444"/><rect class="hd" x="1046" width="157"/><text class="ht" x="1124.5" y="5.2">HD</text><rect class="lc" x="1252" width="28"/></g>
<g transform="translate(0,735)"><path class="bb" d="M1009.6 0H1444"/><rect class="hd" x="1046" width="157"/><text class="ht" x="1124.5" y="5.2">HD</text><rect class="lc" x="1252" width="28"/></g>
<g transform="translate(0,761)"><path class="bb" d="M1009.6 0H1444"/><rect class="hd" x="1046" width="157"/><text class="ht" x="1124.5" y="5.2">HD</text><rect class="lc" x="1252" width="28"/></g>
<g transform="translate(0,787)"><path class="bb" d="M1009.6 0H1430"/><rect class="lc" x="1020" width="20"/><rect class="lc" x="1054" width="20"/><rect class="rz" x="1082" width="19"/><rect class="hd" x="1147" width="225"/><text class="ht" x="1259.5" y="5.2">HD</text><rect class="lc" x="1401" width="20"/></g>
<g transform="translate(0,812)"><path class="bb" d="M1009.6 0H1430"/><rect class="lc" x="1020" width="20"/><rect class="lc" x="1054" width="20"/><rect class="rz" x="1082" width="19"/><rect class="hd" x="1147" width="225"/><text class="ht" x="1259.5" y="5.2">HD</text><rect class="lc" x="1401" width="20"/></g>
<g transform="translate(0,836)"><path class="bb" d="M1009.6 0H1288"/><rect class="hd" x="1090" width="182"/><text class="ht" x="1181" y="5.2">HD</text></g>
<g transform="translate(0,861)"><path class="bb" d="M1009.6 0H1398"/><rect class="lc" x="1018" width="18"/><rect class="lc" x="1049" width="19"/><rect class="rz" x="1075" width="19"/><rect class="hd" x="1135" width="210"/><text class="ht" x="1240" y="5.2">HD</text></g>
<g transform="translate(0,886)"><path class="bb" d="M1009.6 0H1332"/><rect class="lc" x="1018" width="17"/><rect class="lc" x="1047" width="17"/><rect class="rz" x="1070" width="18"/><rect class="hd" x="1127" width="195"/><text class="ht" x="1224.5" y="5.2">HD</text></g>
<g transform="translate(0,911)"><path class="bb" d="M1009.6 0H1282"/><rect class="hd" x="1090" width="177"/><text class="ht" x="1178.5" y="5.2">HD</text></g>
<g transform="translate(0,938)"><path class="bb" d="M1009.6 0H1313"/><rect class="hd" x="1098" width="198"/><text class="ht" x="1197" y="5.2">HD</text></g>
<g transform="translate(0,964)"><path class="bb" d="M1009.6 0H1312"/><rect class="hd" x="1098" width="196"/><text class="ht" x="1196" y="5.2">HD</text></g>
<g transform="translate(0,987)"><path class="bb" d="M1009.6 0H1302"/><rect class="hd" x="1045" width="98"/><text class="st" x="1094" y="5.2">SIR2</text></g>
<g transform="translate(0,1013)"><path class="bb" d="M1009.6 0H1302"/><rect class="hd" x="1045" width="98"/><text class="st" x="1094" y="5.2">SIR2</text></g>
<g transform="translate(0,1038)"><path class="bb" d="M1009.6 0H1301"/><rect class="hd" x="1044" width="98"/><text class="st" x="1093" y="5.2">SIR2</text></g>
<g transform="translate(0,1063)"><path class="bb" d="M1009.6 0H1301"/><rect class="hd" x="1044" width="98"/><text class="st" x="1093" y="5.2">SIR2</text></g>
<g transform="translate(0,1089)"><path class="bb" d="M1009.6 0H1271"/><rect class="hd" x="1087" width="169"/><text class="st" x="1171.5" y="5.2">SIR2</text></g>
<g transform="translate(0,1115)"><path class="bb" d="M1009.6 0H1256"/><rect class="lc" x="1018" width="18"/><rect class="hd" x="1057" width="156"/><text class="st" x="1135" y="5.2">SIR2</text></g>
<g transform="translate(0,1142)"><path class="bb" d="M1009.6 0H1256"/><rect class="lc" x="1018" width="18"/><rect class="hd" x="1057" width="156"/><text class="st" x="1135" y="5.2">SIR2</text></g>
<g transform="translate(0,1170)"><path class="bb" d="M1009.6 0H1311"/><rect class="hd" x="1099" width="194"/><text class="st" x="1196" y="5.2">SIR2</text></g>
<g transform="translate(0,1198)"><path class="bb" d="M1009.6 0H1257"/><rect class="lc2" x="1046.6" width="15.1"/><rect class="lc2" x="1078.6" width="32.4"/><rect class="lc2" x="1126" width="47.7"/><rect class="lc2" x="1182" width="16.4"/><rect class="c2" x="1257.6" width="30.5"/><text class="ct" x="1272.9" y="4" textLength="27" lengthAdjust="spacingAndGlyphs">C2H2</text></g>
<g transform="translate(0,1222)"><path class="bb" d="M1009.6 0H1206"/><rect class="lc2" x="1041.6" width="12.8"/><rect class="lc2" x="1074" width="48"/><rect class="lc2" x="1132" width="13"/><rect class="c2" x="1206.9" width="30.5"/><text class="ct" x="1222.2" y="4" textLength="27" lengthAdjust="spacingAndGlyphs">C2H2</text></g>
<g transform="translate(0,1248)"><path class="bb" d="M1009.6 0H1262"/><rect class="lc2" x="1047.5" width="15.1"/><rect class="lc2" x="1078.6" width="32.4"/><rect class="lc2" x="1125.7" width="47.1"/><rect class="lc2" x="1181" width="15.5"/><rect class="c2" x="1262.6" width="31.4"/><text class="ct" x="1278.3" y="4" textLength="27" lengthAdjust="spacingAndGlyphs">C2H2</text></g>
<g transform="translate(0,1272)"><path class="bb" d="M1009.6 0H1206"/><rect class="lc2" x="1041.6" width="12.8"/><rect class="lc2" x="1074" width="48"/><rect class="lc2" x="1132" width="13"/><rect class="c2" x="1206.9" width="30.5"/><text class="ct" x="1222.2" y="4" textLength="27" lengthAdjust="spacingAndGlyphs">C2H2</text></g>
<g transform="translate(0,1296)"><path class="bb" d="M1009.6 0H1256"/><rect class="lc2" x="1111" width="41.6"/><rect class="lc2" x="1164.5" width="32"/><rect class="c2" x="1256.7" width="30.5"/><text class="ct" x="1272" y="4" textLength="27" lengthAdjust="spacingAndGlyphs">C2H2</text></g>
<g transform="translate(0,1321)"><path class="bb" d="M1009.6 0H1238"/><rect class="lc2" x="1093" width="29"/><rect class="lc2" x="1135.3" width="43.7"/><rect class="lc2" x="1187" width="13.6"/><rect class="c2" x="1238" width="30.8"/><text class="ct" x="1253.4" y="4" textLength="27" lengthAdjust="spacingAndGlyphs">C2H2</text></g>
<g transform="translate(0,1348)"><path class="bb" d="M1009.6 0H1261"/><rect class="lc2" x="1047.5" width="15.1"/><rect class="lc2" x="1078.6" width="32.4"/><rect class="lc2" x="1125.7" width="47.1"/><rect class="lc2" x="1181" width="15.5"/><rect class="c2" x="1261.7" width="30.1"/><text class="ct" x="1276.8" y="4" textLength="27" lengthAdjust="spacingAndGlyphs">C2H2</text></g>
<g transform="translate(0,1376)"><path class="bb" d="M1009.6 0H1259"/><rect class="lc2" x="1046" width="15"/><rect class="lc2" x="1077" width="33"/><rect class="lc2" x="1124" width="47"/><rect class="lc2" x="1179" width="16"/><rect class="c2" x="1259.2" width="30.6"/><text class="ct" x="1274.5" y="4" textLength="27" lengthAdjust="spacingAndGlyphs">C2H2</text></g>
<g transform="translate(0,1400)"><path class="bb" d="M1009.6 0H1223"/><rect class="lc2" x="1092" width="28.7"/><rect class="lc2" x="1134" width="44"/><rect class="lc2" x="1185.5" width="13.8"/><rect class="c2" x="1223.2" width="31.1"/><text class="ct" x="1238.8" y="4" textLength="27" lengthAdjust="spacingAndGlyphs">C2H2</text></g>
<g transform="translate(0,1424)"><path class="bb" d="M1009.6 0H1261"/><rect class="lc2" x="1102.4" width="31.6"/><rect class="lc2" x="1148.5" width="48"/><rect class="lc2" x="1205.7" width="15.1"/><rect class="c2" x="1261.7" width="30.6"/><text class="ct" x="1277" y="4" textLength="27" lengthAdjust="spacingAndGlyphs">C2H2</text></g>
<g transform="translate(0,1450)"><path class="bb" d="M1009.6 0H1210"/><rect class="lc2" x="1086.8" width="26.2"/><rect class="lc2" x="1125.7" width="40.7"/><rect class="lc2" x="1173.7" width="11.9"/><rect class="c2" x="1210.5" width="30.5"/><text class="ct" x="1225.8" y="4" textLength="27" lengthAdjust="spacingAndGlyphs">C2H2</text></g>
<g transform="translate(0,1475)"><path class="bb" d="M1009.6 0H1261"/><rect class="lc2" x="1102.4" width="31.6"/><rect class="lc2" x="1148.5" width="48"/><rect class="lc2" x="1205.7" width="15.1"/><rect class="c2" x="1261.7" width="30.6"/><text class="ct" x="1277" y="4" textLength="27" lengthAdjust="spacingAndGlyphs">C2H2</text></g>
<g transform="translate(0,1500)"><path class="bb" d="M1009.6 0H1191"/><rect class="lc2" x="1079" width="24.3"/><rect class="lc2" x="1114.7" width="37.3"/><rect class="lc2" x="1158.6" width="11.4"/><rect class="c2" x="1191.2" width="29.3"/><text class="ct" x="1205.9" y="4" textLength="26" lengthAdjust="spacingAndGlyphs">C2H2</text></g>
</g>

<g id="C-legend">
<rect x="3158" y="1972" width="47" height="125" fill="#00f0f0" stroke="#f6c29c" stroke-width="7"/>
<text transform="translate(3170,2035) rotate(90)" font-family="Liberation Serif, Times New Roman, serif" font-weight="bold" font-size="34" fill="#000" text-anchor="middle" textLength="100" lengthAdjust="spacingAndGlyphs">C2H2</text>
<text class="lg" transform="translate(3091,2060) rotate(90)">ZnF_C2H2</text>
<rect x="3153" y="2227" width="53" height="128" fill="#00ffff" stroke="#4d4d4d" stroke-width="5"/>
<text class="lg" transform="translate(3091,2281) rotate(90)">ZnF_RBZ</text>
<rect x="3157" y="2488" width="53" height="138" fill="#f20c9e"/>
<text class="lg" transform="translate(3091,2584) rotate(90)">Low complexity</text>
<rect x="3153" y="2763" width="53" height="167" fill="url(#gV)" stroke="#333" stroke-width="5"/>
<text transform="translate(3166,2846) rotate(90)" font-family="Liberation Serif, Times New Roman, serif" font-size="42" fill="#ff2020" text-anchor="middle">SIR2</text>
<text class="lg" transform="translate(3091,2848) rotate(90)">SIR2</text>
<rect x="3157" y="3030" width="53" height="152" fill="url(#gV)" stroke="#333" stroke-width="5"/>
<text transform="translate(3169,3106) rotate(90)" font-family="Liberation Serif, Times New Roman, serif" font-size="42" fill="#1a1ad6" text-anchor="middle">HD</text>
<text class="lg" transform="translate(3091,3132) rotate(90)">Hist_deacetyl</text>
</g>

<g id="scale-bar">
<line x1="127" y1="3322" x2="402" y2="3322" stroke="#000" stroke-width="7"/>
<line x1="128.5" y1="3322" x2="128.5" y2="3360" stroke="#000" stroke-width="3"/>
<line x1="400.5" y1="3322" x2="400.5" y2="3360" stroke="#000" stroke-width="3"/>
<text x="245" y="3394" font-family="Liberation Sans, Arial, sans-serif" font-size="52" fill="#111" text-anchor="middle">0.05</text>
</g>

<g id="axis-B">
<line x1="928" y1="3320" x2="2122" y2="3320" stroke="#000" stroke-width="10"/>
<line x1="930" y1="3320" x2="930" y2="3352" stroke="#000" stroke-width="5"/>
<line x1="1526" y1="3320" x2="1526" y2="3352" stroke="#000" stroke-width="5"/>
<line x1="2120" y1="3320" x2="2120" y2="3352" stroke="#000" stroke-width="5"/>
<text class="ax" x="940" y="3407">0.0</text>
<text class="ax" x="1525" y="3407">4.5</text>
<text class="ax" x="2147" y="3407" style="text-anchor:end">(kb) 9.0</text>
</g>

<g id="axis-C">
<line x1="2209" y1="3322" x2="3256" y2="3322" stroke="#1f3f86" stroke-width="12" stroke-dasharray="16 9"/>
<line x1="2209" y1="3316" x2="2209" y2="3347" stroke="#1f3f86" stroke-width="3"/>
<line x1="2474" y1="3316" x2="2474" y2="3347" stroke="#1f3f86" stroke-width="3"/>
<line x1="2731" y1="3316" x2="2731" y2="3347" stroke="#1f3f86" stroke-width="3"/>
<line x1="2991" y1="3316" x2="2991" y2="3347" stroke="#1f3f86" stroke-width="3"/>
<line x1="3256" y1="3316" x2="3256" y2="3347" stroke="#1f3f86" stroke-width="3"/>
<text class="ax" x="2212" y="3407">0.0</text>
<text class="ax" x="2476" y="3407">200</text>
<text class="ax" x="2733" y="3407">400</text>
<text class="ax" x="2994" y="3407">600</text>
<text class="ax" x="3295" y="3407" style="text-anchor:end">(aa) 800</text>
</g>
</svg>
